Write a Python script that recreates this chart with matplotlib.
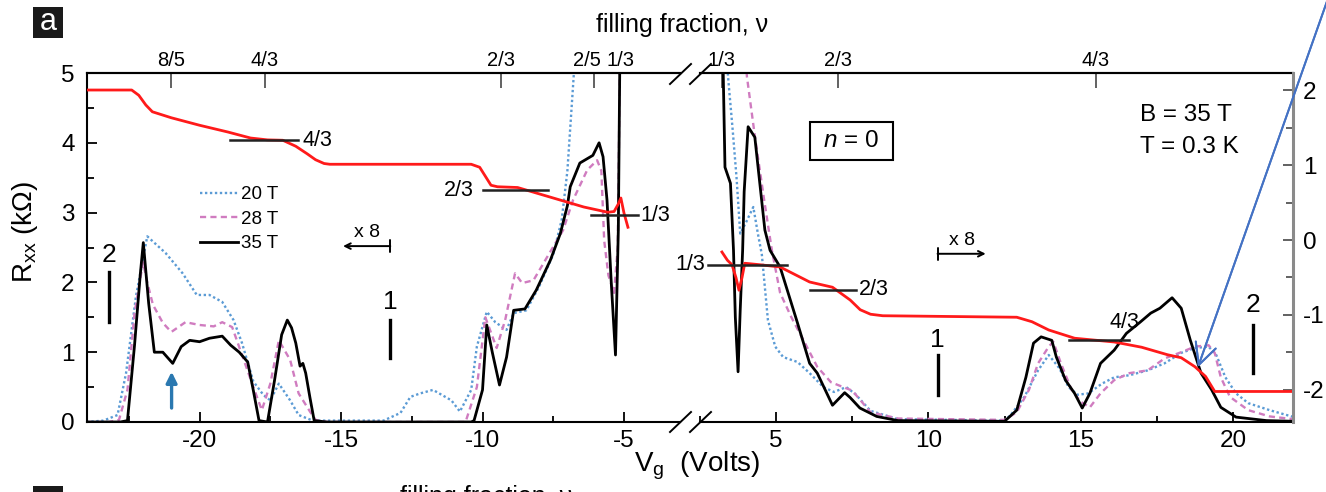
import matplotlib.pyplot as plt
from matplotlib.lines import Line2D
from matplotlib.patches import Rectangle
from matplotlib.ticker import MultipleLocator

plt.rcParams['font.family'] = ['Liberation Sans', 'DejaVu Sans']
plt.rcParams['mathtext.fontset'] = 'custom'
plt.rcParams['mathtext.rm'] = 'Liberation Sans'
plt.rcParams['mathtext.it'] = 'Liberation Sans:italic'
plt.rcParams['mathtext.default'] = 'regular'
plt.rcParams['axes.unicode_minus'] = False

# ---- R_xx (kOhm) vs Vg (V), left of the axis break ----
vg20_l = [-24, -23.4, -22.9, -22.6, -22.25, -21.85, -21.2, -20.6, -20.1, -19.65, -19.2, -18.8,
          -18.5, -18.1, -17.75, -17.5, -17.2, -16.8, -16.5, -16.0, -13.5, -12.9, -12.55, -12.2,
          -11.75, -11.1, -10.8, -10.4, -10.2, -9.85, -9.55, -9.15, -8.9, -8.45, -8.0, -7.5,
          -7.2, -7.0, -6.77, -6.5, -3.0]
r20_l = [0, 0.02, 0.1, 0.7, 1.8, 2.66, 2.42, 2.13, 1.82, 1.82, 1.72, 1.46,
         1.13, 0.58, 0.39, 0.31, 0.55, 0.31, 0.1, 0.02, 0.02, 0.13, 0.36, 0.41,
         0.46, 0.31, 0.15, 0.46, 1.08, 1.58, 1.43, 1.32, 1.56, 1.6, 1.94, 2.4,
         2.9, 3.6, 5.0, 6.5, 8]

vg28_l = [-24, -23.2, -22.85, -22.55, -22.3, -22.0, -21.85, -21.65, -21.3, -21.0, -20.5, -20.0,
          -19.5, -19.2, -18.85, -18.5, -18.1, -17.8, -17.5, -17.2, -16.8, -16.5, -16.1, -15.9,
          -15.5, -10.6, -10.2, -9.9, -9.5, -9.2, -8.85, -8.6, -8.2, -7.75, -7.15, -6.8,
          -6.3, -5.95, -5.8, -5.7, -5.55, -5.35, -5.22, -5.12, -3.0]
r28_l = [0, 0, 0.03, 0.46, 1.56, 2.29, 2.0, 1.68, 1.42, 1.29, 1.43, 1.39,
         1.37, 1.43, 1.36, 0.96, 0.5, 0.17, 0.55, 1.17, 0.89, 0.41, 0.15, 0.03,
         0, 0, 0.5, 1.5, 1.06, 1.46, 2.13, 1.99, 2.03, 2.34, 2.75, 3.18,
         3.61, 3.75, 3.6, 2.6, 2.1, 1.85, 2.5, 6, 8]

vg35_l = [-24, -22.8, -22.55, -22.3, -22.1, -21.99, -21.8, -21.6, -21.3, -20.95, -20.65, -20.35,
          -20.0, -19.65, -19.2, -18.9, -18.6, -18.3, -18.1, -17.9, -17.6, -17.35, -17.1, -16.9,
          -16.75, -16.6, -16.45, -16.35, -16.25, -16.1, -15.95, -15.5, -10.4, -10.3, -10.0, -9.85,
          -9.65, -9.4, -9.15, -8.9, -8.5, -8.1, -7.6, -7.25, -7.0, -6.9, -6.56, -6.1,
          -5.88, -5.74, -5.6, -5.45, -5.3, -5.2, -5.14, -5.05, -3.0]
r35_l = [0, 0, 0.02, 1.1, 2.1, 2.57, 1.7, 1.0, 1.0, 0.84, 1.08, 1.17,
         1.15, 1.2, 1.23, 1.1, 1.0, 0.86, 0.45, 0.02, 0, 0.6, 1.25, 1.46,
         1.35, 1.13, 0.8, 0.84, 0.7, 0.35, 0.02, 0, 0, 0.02, 0.46, 1.39,
         0.99, 0.53, 0.93, 1.6, 1.62, 1.89, 2.32, 2.7, 3.1, 3.37, 3.71, 3.82,
         4.0, 3.8, 3.18, 2.0, 0.96, 2.75, 5.5, 8, 8]

# ---- R_xx (kOhm) vs Vg (V), right of the axis break ----
vg20_r = [2.4, 3.3, 3.42, 3.57, 3.7, 3.82, 4.0, 4.25, 4.4, 4.53, 4.73, 4.97,
          5.23, 5.7, 6.1, 6.55, 6.9, 7.3, 7.6, 8.1, 9.0, 12.5, 12.7, 13.15,
          13.6, 13.95, 14.3, 14.6, 14.9, 15.25, 15.7, 16.1, 16.6, 17.2, 17.75, 18.3,
          18.75, 19.2, 19.45, 19.75, 20.1, 20.5, 21.2, 22]
r20_r = [8, 6, 4.95, 4.2, 3.5, 2.7, 2.85, 3.08, 2.7, 2.4, 1.46, 1.08,
         0.93, 0.86, 0.7, 0.5, 0.43, 0.5, 0.4, 0.16, 0.04, 0.02, 0.1, 0.36,
         0.74, 0.96, 0.77, 0.5, 0.39, 0.41, 0.55, 0.64, 0.67, 0.74, 0.84, 0.99,
         1.06, 1.08, 0.96, 0.64, 0.41, 0.27, 0.17, 0.07]

vg28_r = [2.4, 3.9, 4.04, 4.3, 4.6, 4.86, 5.13, 5.5, 5.9, 6.35, 6.8, 7.2,
          7.5, 8.1, 9.0, 12.5, 12.9, 13.3, 13.6, 13.95, 14.1, 14.35, 14.7, 15.0,
          15.3, 15.65, 16.1, 16.6, 17.2, 17.75, 18.3, 18.75, 19.2, 19.4, 19.6, 19.9,
          20.5, 21.2, 22]
r28_r = [8, 6, 4.95, 4.1, 3.2, 2.46, 1.85, 1.5, 1.17, 0.79, 0.57, 0.5,
         0.45, 0.14, 0.05, 0.03, 0.14, 0.46, 0.84, 1.08, 1.15, 0.84, 0.46, 0.29,
         0.21, 0.41, 0.6, 0.7, 0.74, 0.91, 1.0, 1.08, 1.1, 0.99, 0.64, 0.36,
         0.17, 0.08, 0.04]

vg35_r = [2.4, 3.22, 3.32, 3.5, 3.6, 3.66, 3.75, 3.82, 3.9, 3.95, 4.08, 4.3,
          4.63, 4.8, 5.13, 5.7, 6.1, 6.35, 6.85, 7.25, 7.43, 7.75, 8.3, 9.0,
          12.5, 12.9, 13.2, 13.45, 13.7, 14.05, 14.2, 14.5, 14.8, 15.05, 15.3, 15.65,
          16.1, 16.5, 16.95, 17.3, 17.6, 18.0, 18.3, 18.6, 18.95, 19.3, 19.6, 20.1,
          21.1, 22]
r35_r = [8, 6, 3.65, 3.42, 2.46, 1.5, 0.72, 1.6, 2.46, 3.3, 4.23, 4.08,
         2.75, 2.46, 2.22, 1.42, 0.84, 0.7, 0.24, 0.42, 0.35, 0.2, 0.08, 0.02,
         0.01, 0.17, 0.64, 1.13, 1.22, 1.17, 0.93, 0.6, 0.41, 0.2, 0.41, 0.84,
         1.03, 1.27, 1.43, 1.56, 1.63, 1.78, 1.63, 1.17, 0.7, 0.46, 0.21, 0.07,
         0.02, 0.01]

# ---- Hall conductance (e^2/h) at 35 T, right-hand scale ----
vgH_l = [-24.0, -22.4, -22.15, -21.9, -21.67, -21.0, -20.0, -19.0, -18.2, -17.6, -17.06, -16.6,
         -16.2, -15.9, -15.6, -15.4, -10.4, -10.1, -9.85, -9.7, -9.47, -8.76, -7.59, -6.42,
         -5.57, -5.35, -5.2, -5.11, -5.0, -4.86]
sxy_l = [2.0, 2.0, 1.93, 1.8, 1.71, 1.63, 1.53, 1.44, 1.36, 1.335, 1.33, 1.25,
         1.15, 1.07, 1.02, 1.01, 1.01, 0.97, 0.82, 0.73, 0.71, 0.7, 0.57, 0.44,
         0.37, 0.38, 0.48, 0.56, 0.36, 0.17]
vgH_r = [3.22, 3.4, 3.55, 3.68, 3.78, 3.88, 3.97, 4.47, 5.13, 6.1, 6.85, 7.43,
         7.76, 8.1, 8.5, 12.9, 13.4, 13.95, 14.8, 16.1, 17.0, 17.85, 18.3, 18.75,
         19.1, 19.4, 19.6, 22.0]
sxy_r = [-0.16, -0.27, -0.33, -0.5, -0.67, -0.5, -0.31, -0.33, -0.36, -0.56, -0.63, -0.8,
         -0.93, -0.99, -1.01, -1.03, -1.09, -1.2, -1.31, -1.36, -1.43, -1.53, -1.57, -1.69,
         -1.82, -2.02, -2.02, -2.02]

# Hall plateau markers: (vg start, vg end, level, label)
plateaus_l = [(-18.94, -16.52, 4 / 3, '4/3'), (-10.0, -7.7, 2 / 3, '2/3'), (-6.17, -4.5, 1 / 3, '1/3')]
plateaus_r = [(2.76, 5.36, -1 / 3, '1/3'), (6.12, 7.63, -2 / 3, '2/3'), (14.6, 16.6, -4 / 3, '4/3')]

# filling fraction ticks on top
nu_pos_l = [-21.0, -17.7, -9.36, -6.06, -5.14]
nu_lab_l = ['8/5', '4/3', '2/3', '2/5', '1/3']
nu_pos_r = [3.22, 7.04, 15.5]
nu_lab_r = ['1/3', '2/3', '4/3']

W, H = 1326, 492
fig = plt.figure(figsize=(W / 100, H / 100), dpi=100)


def box(x0, y0, x1, y1):
    # pixel box measured from the top-left corner -> figure rect
    return [x0 / W, 1 - y1 / H, (x1 - x0) / W, (y1 - y0) / H]


axL = fig.add_axes(box(87, 73, 680, 422))
axR = fig.add_axes(box(700, 73, 1293, 422))
twL = axL.twinx()
twR = axR.twinx()

blue, pink, red = '#5b9bd5', '#d07cc0', '#ff1a1a'
dot = (0, (1, 1.1))
dash = (0, (2.6, 1.8))

axL.plot(vg20_l, r20_l, color=blue, lw=1.7, ls=dot, label='20 T')
axL.plot(vg28_l, r28_l, color=pink, lw=1.7, ls=dash, label='28 T')
axL.plot(vg35_l, r35_l, color='k', lw=2.0, label='35 T')
axR.plot(vg20_r, r20_r, color=blue, lw=1.7, ls=dot)
axR.plot(vg28_r, r28_r, color=pink, lw=1.7, ls=dash)
axR.plot(vg35_r, r35_r, color='k', lw=2.0)
twL.plot(vgH_l, sxy_l, color=red, lw=2.0)
twR.plot(vgH_r, sxy_r, color=red, lw=2.0)

axL.set_xlim(-23.98, -3.02)
axR.set_xlim(2.5, 21.97)
for ax in (axL, axR):
    ax.set_ylim(0, 5)
for tw in (twL, twR):
    tw.set_ylim(-2.427, 2.227)

# plateau markers
for tw, plats in ((twL, plateaus_l), (twR, plateaus_r)):
    for a, b, lev, lab in plats:
        tw.plot([a, b], [lev, lev], color='#222222', lw=1.8)
twL.text(-16.35, 4 / 3, '4/3', ha='left', va='center', fontsize=15.5)
twL.text(-10.3, 2 / 3, '2/3', ha='right', va='center', fontsize=15.5)
twL.text(-4.42, 1 / 3, '1/3', ha='left', va='center', fontsize=15.5)
twR.text(2.66, -1 / 3, '1/3', ha='right', va='center', fontsize=15.5, clip_on=False)
twR.text(7.72, -2 / 3, '2/3', ha='left', va='center', fontsize=15.5)
twR.text(16.45, -1.24, '4/3', ha='center', va='bottom', fontsize=15.5)

# tick styling
for ax in (axL, axR):
    ax.xaxis.set_major_locator(MultipleLocator(5))
    ax.xaxis.set_minor_locator(MultipleLocator(2.5))
    ax.tick_params(axis='x', which='both', direction='in', top=False, labelsize=17.5, pad=6, width=1.3)
    ax.tick_params(axis='x', which='major', length=7)
    ax.tick_params(axis='x', which='minor', length=4.5)
    for s in ax.spines.values():
        s.set_linewidth(1.5)
axL.yaxis.set_major_locator(MultipleLocator(1))
axL.yaxis.set_minor_locator(MultipleLocator(0.5))
axL.tick_params(axis='y', which='both', direction='in', right=False, labelsize=17.5, pad=9, width=1.3)
axL.tick_params(axis='y', which='major', length=7)
axL.tick_params(axis='y', which='minor', length=5)
axL.spines['right'].set_visible(False)
axR.spines['left'].set_visible(False)
axR.spines['right'].set_visible(False)
axR.tick_params(axis='y', which='both', left=False, right=False, labelleft=False)

twL.axis('off')
twR.yaxis.set_major_locator(MultipleLocator(1))
twR.yaxis.set_minor_locator(MultipleLocator(0.5))
twR.tick_params(axis='y', which='both', direction='in', labelsize=17.5, pad=7, width=1.3, color='#555555')
twR.tick_params(axis='y', which='major', length=7)
twR.tick_params(axis='y', which='minor', length=5)
for side in ('left', 'top', 'bottom'):
    twR.spines[side].set_visible(False)
twR.spines['right'].set_color('#8a8a8a')
twR.spines['right'].set_linewidth(2.2)

# filling-fraction axis on top
for ax, pos, labs in ((axL, nu_pos_l, nu_lab_l), (axR, nu_pos_r, nu_lab_r)):
    sec = ax.secondary_xaxis('top')
    sec.set_xticks(pos)
    sec.tick_params(axis='x', direction='in', length=11, width=1.3, color='#555555', labeltop=False)
    sec.spines['top'].set_linewidth(1.5)
    for p, lab in zip(pos, labs):
        nudge = -0.25 if lab == '2/5' else 0
        ax.text(p + nudge, 1.037, lab, transform=ax.get_xaxis_transform(),
                ha='center', va='center', fontsize=14.5)

fig.text(682 / W, 1 - 25 / H, 'filling fraction, ν', ha='center', va='center', fontsize=18)
fig.text(697 / W, 1 - 466 / H, 'V$_g$  (Volts)', ha='center', va='center', fontsize=20)
fig.text(25 / W, 1 - 232 / H, 'R$_{xx}$ (kΩ)', ha='center', va='center', rotation=90, fontsize=20)

# axis break marks
for x0 in (670, 690):
    for yc in (74, 422):
        fig.add_artist(Line2D([x0 / W, (x0 + 21) / W], [1 - (yc + 10) / H, 1 - (yc - 10) / H],
                              transform=fig.transFigure, color='k', lw=1.4))

# legend
axL.legend(loc='upper left', bbox_to_anchor=(200 / W, 1 - 186 / H), bbox_transform=fig.transFigure,
           frameon=False, fontsize=13.5, handlelength=2.0, handletextpad=0.2, labelspacing=0.4,
           borderpad=0, borderaxespad=0)

# x8 arrows
axL.annotate('', xy=(-14.93, 2.52), xytext=(-13.26, 2.52),
             arrowprops=dict(arrowstyle=']->,widthA=0.45,lengthA=0', lw=1.4, color='k', shrinkA=0, shrinkB=0))
axL.text(-14.1, 2.71, 'x 8', ha='center', va='center', fontsize=14)
axR.annotate('', xy=(11.88, 2.41), xytext=(10.3, 2.41),
             arrowprops=dict(arrowstyle=']->,widthA=0.45,lengthA=0', lw=1.4, color='k', shrinkA=0, shrinkB=0))
axR.text(11.1, 2.6, 'x 8', ha='center', va='center', fontsize=14)

# Landau level index marks
for ax, x, ytxt, ybar, lab in ((axL, -23.19, 2.39, (2.15, 1.43), '2'),
                               (axL, -13.26, 1.72, (1.46, 0.92), '1'),
                               (axR, 10.3, 1.17, (0.96, 0.39), '1'),
                               (axR, 20.66, 1.68, (1.39, 0.70), '2')):
    ax.text(x, ytxt, lab, ha='center', va='center', fontsize=19)
    ax.plot([x, x], ybar, color='k', lw=2.4)

# small blue arrow
axL.annotate('', xy=(-20.99, 0.72), xytext=(-20.99, 0.2),
             arrowprops=dict(arrowstyle='-|>', color='#2a78b0', lw=2.4, mutation_scale=16,
                             shrinkA=0, shrinkB=0))

# boxes and texts
fig.add_artist(Rectangle((810 / W, 1 - 160 / H), 83 / W, 38 / H, transform=fig.transFigure,
                         fill=False, ec='k', lw=1.5))
fig.text(851 / W, 1 - 141 / H, r'$\mathit{n}$ = 0', ha='center', va='center', fontsize=17.5)
fig.text(1140 / W, 1 - 115 / H, 'B = 35 T', ha='left', va='center', fontsize=17.5)
fig.text(1140 / W, 1 - 147 / H, 'T = 0.3 K', ha='left', va='center', fontsize=17.5)

# panel label
fig.add_artist(Rectangle((33 / W, 1 - 38 / H), 30 / W, 31 / H, transform=fig.transFigure,
                         fc='#1a1a1a', ec='none'))
fig.text(48 / W, 1 - 22 / H, 'a', color='white', ha='center', va='center', fontsize=22)

# start of next panel, cut by the crop
fig.add_artist(Rectangle((33 / W, 1 - 500 / H), 30 / W, 14 / H, transform=fig.transFigure,
                         fc='#1a1a1a', ec='none'))
fig.text(400 / W, 1 - 485 / H, 'filling fraction, ν', ha='left', va='top', fontsize=18)

# long pointer arrow
fig.add_artist(plt.annotate('', xy=(1198 / W, 1 - 367 / H), xytext=(1331 / W, 1 + 10 / H),
                            xycoords='figure fraction', textcoords='figure fraction',
                            arrowprops=dict(arrowstyle='->', color='#4472c4', lw=1.4,
                                            mutation_scale=38, shrinkA=0, shrinkB=0),
                            annotation_clip=False))

fig.savefig('out.png', dpi=100)
